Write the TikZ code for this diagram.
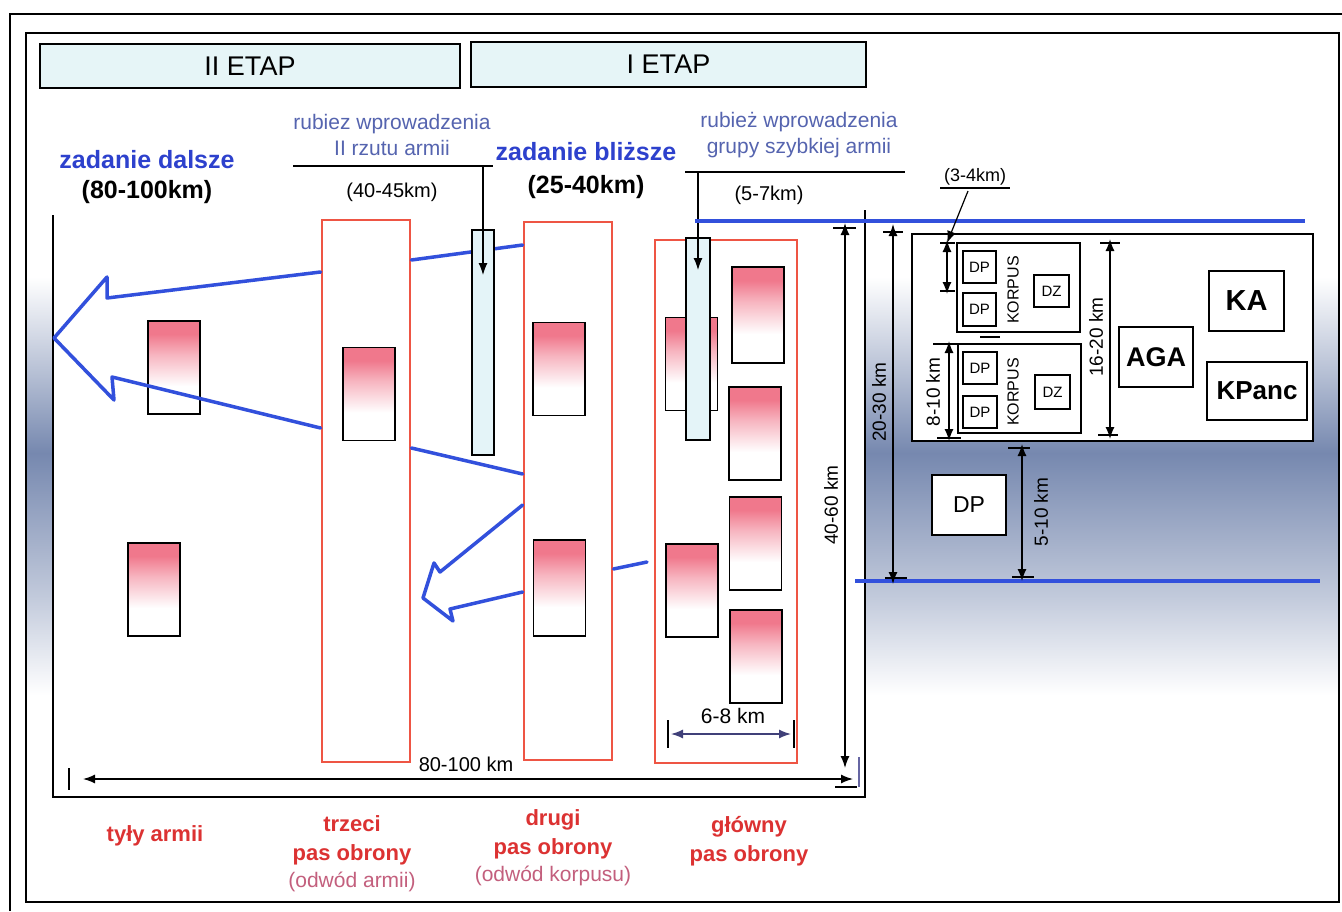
\documentclass[tikz,border=0pt]{standalone}
\usepackage{fontspec}
\setmainfont{Liberation Sans}
\usetikzlibrary{arrows.meta, positioning}
\definecolor{zadblue}{RGB}{45,65,205}
\definecolor{rubgrey}{RGB}{85,100,175}
\definecolor{pasred}{RGB}{238,85,68}
\definecolor{lblred}{RGB}{220,50,50}
\definecolor{odwred}{RGB}{195,95,125}
\definecolor{movblue}{RGB}{50,80,220}
\definecolor{etapfill}{RGB}{230,245,247}
\definecolor{barfill}{RGB}{228,244,248}
\definecolor{unitpink}{RGB}{240,120,140}
\definecolor{bandgrey}{RGB}{118,136,175}
\pgfdeclareverticalshading{unitfade}{100bp}{color(0bp)=(white); color(40bp)=(white); color(57bp)=(unitpink!55); color(68bp)=(unitpink); color(100bp)=(unitpink)}
\pgfdeclareverticalshading{bandfade}{100bp}{color(0bp)=(white); color(30bp)=(white); color(39bp)=(bandgrey!45); color(52bp)=(bandgrey); color(59bp)=(bandgrey!55); color(68bp)=(white); color(100bp)=(white)}
\newcommand{\pxfont}[1]{\fontsize{#1}{#1}\selectfont}

\begin{document}
\begin{tikzpicture}[x=1pt, y=-1pt,
  etap/.style={draw, line width=1.4pt, fill=etapfill, inner sep=0pt, font=\pxfont{27}},
  pas/.style={draw=pasred, line width=2.8pt, inner sep=0pt},
  unit/.style={draw, line width=1.5pt, shading=unitfade, inner sep=0pt, minimum width=52pt, minimum height=93pt},
  bar/.style={draw, line width=1.3pt, fill=barfill, inner sep=0pt},
  blk/.style={draw, line width=1.4pt, fill=white, inner sep=0pt},
  zad/.style={text=zadblue, font=\pxfont{25}\bfseries},
  kmb/.style={font=\pxfont{25}\bfseries},
  rub/.style={text=rubgrey, font=\pxfont{21}, align=center},
  dim/.style={font=\pxfont{20}},
  vdim/.style={font=\pxfont{19}, rotate=90},
  pasl/.style={text=lblred, font=\pxfont{22}\bfseries, align=center},
  odw/.style={text=odwred, font=\pxfont{21}},
  move/.style={draw=movblue, line width=3.5pt, line join=round, line cap=round},
  front/.style={draw=movblue, line width=4pt},
  dimarr/.style={{Latex[length=12pt,width=9pt]}-{Latex[length=12pt,width=9pt]}, line width=1.4pt},
  arr/.style={-{Latex[length=12pt,width=9pt]}, line width=1.2pt},
  tick/.style={line width=1.2pt},
]
\useasboundingbox (0,0) rectangle (1342,911);
\fill[white] (0,0) rectangle (1342,911);
\shade[shading=bandfade] (26,200) rectangle (1339,750);
\fill[white] (53,215) rectangle (865,797);
\draw[line width=1.2pt] (10,911) -- (10,14) -- (1342,14);
\draw[line width=1.4pt] (26,33) rectangle (1339,902);
\draw[line width=1.3pt] (53,215) -- (53,797) -- (865,797) -- (865,210);

\node[etap, minimum width=420pt, minimum height=44pt] (etap2) at (250,66) {II ETAP};
\node[etap, minimum width=395pt, minimum height=45pt] (etap1) at (668.5,64.5) {I ETAP};

\node[zad] (zdal) at (147,160) {zadanie dalsze};
\node[kmb] (zdalkm) at (147,192) {(80-100km)};
\node[zad] (zbl) at (586,152) {zadanie bliższe};
\node[kmb] (zblkm) at (586,187) {(25-40km)};
\node[rub] (rub2) at (392,135) {rubiez wprowadzenia\\[5pt]II rzutu armii};
\node[rub] (rubg) at (799,135) {rubież wprowadzenia\\[5pt]grupy szybkiej armii};
\node[dim] (rub2km) at (392,192) {(40-45km)};
\node[dim] (rubgkm) at (769,195) {(5-7km)};
\node[font=\pxfont{18}] (odst) at (975,177) {(3-4km)};
\coordinate (rub2l) at (293,166);
\coordinate (rub2r) at (493,166);
\coordinate (rubgl) at (685,172);
\coordinate (rubgr) at (905,172);
\coordinate (odstl) at (940,188);
\coordinate (odstr) at (1010,188);
\draw[tick] (rub2l) -- (rub2r);
\draw[tick] (rubgl) -- (rubgr);
\draw[tick] (odstl) -- (odstr);

\node[pas, minimum width=88pt, minimum height=542pt] (trzeci) at (366,491) {};
\node[pas, minimum width=88pt, minimum height=538pt] (drugi) at (568,491) {};
\node[pas, minimum width=142pt, minimum height=523pt] (glowny) at (726,501.5) {};

\node[unit] (u1) at (174,367.5) {};
\node[unit] (u2) at (154,589.5) {};
\node[unit] (u3) at (369,394) {};
\node[unit] (u4) at (559,369) {};
\node[unit, minimum height=96pt] (u5) at (559.5,588) {};
\node[unit] (u6) at (691.5,364) {};
\node[unit, minimum height=96pt] (u7) at (758,315) {};
\node[unit] (u8) at (755,433.5) {};
\node[unit] (u9) at (755.5,543.5) {};
\node[unit] (u10) at (756,656.5) {};
\node[unit] (u11) at (692,590.5) {};

\coordinate (dalA) at (trzeci.west |- 0,272);
\coordinate (dalB) at (trzeci.west |- 0,428);
\draw[move] (dalA) -- (107,298) -- (107,277) -- (54,338) -- (114,400) -- (112,377) -- (dalB);
\coordinate (blA) at (drugi.west |- 0,505);
\coordinate (blB) at (drugi.west |- 0,592);
\draw[move] (blA) -- (440,572) -- (434,563) -- (423,598) -- (453,621) -- (450,609) -- (blB);
\draw[move] (trzeci.east |- 0,260) -- (drugi.west |- 0,245);
\draw[move] (trzeci.east |- 0,448) -- (drugi.west |- 0,474);
\coordinate (glA) at (647,562);
\draw[move] (drugi.east |- 0,569) -- (glA);

\node[bar, minimum width=22pt, minimum height=225pt] (bar2) at (483,342.5) {};
\node[bar, minimum width=24pt, minimum height=202pt] (barg) at (698,339) {};
\draw[arr] (rub2r -| bar2) -- (bar2.north |- 0,275);
\draw[arr] (rubgl -| barg) -- (barg.north |- 0,270);

\coordinate (frontA) at (695,221);
\coordinate (frontB) at (1305,221);
\coordinate (frontC) at (855,581);
\coordinate (frontD) at (1320,581);
\draw[front] (frontA) -- (frontB);
\draw[front] (frontC) -- (frontD);

\node[blk, minimum width=401pt, minimum height=207pt] (armia) at (1112.5,337.5) {};
\node[blk, minimum width=123pt, minimum height=89pt] (korp1) at (1018.5,287.5) {};
\node[blk, minimum width=123pt, minimum height=89pt] (korp2) at (1019.5,388.5) {};
\node[blk, minimum width=33pt, minimum height=32pt, font=\pxfont{15}] (dp1a) at (979.5,267) {DP};
\node[blk, minimum width=33pt, minimum height=33pt, font=\pxfont{15}] (dp1b) at (979.5,309.5) {DP};
\node[blk, minimum width=35pt, minimum height=32pt, font=\pxfont{15}] (dz1) at (1051.5,291) {DZ};
\node[blk, minimum width=34pt, minimum height=32pt, font=\pxfont{15}] (dp2a) at (980,368) {DP};
\node[blk, minimum width=34pt, minimum height=32pt, font=\pxfont{15}] (dp2b) at (980,412) {DP};
\node[blk, minimum width=35pt, minimum height=34pt, font=\pxfont{15}] (dz2) at (1052.5,392) {DZ};
\node[rotate=90, font=\pxfont{16}] (k1lbl) at (1013,290) {KORPUS};
\node[rotate=90, font=\pxfont{16}] (k2lbl) at (1013,392) {KORPUS};
\node[blk, minimum width=74pt, minimum height=60pt, font=\pxfont{27}\bfseries] (aga) at (1156,357) {AGA};
\node[blk, minimum width=75pt, minimum height=60pt, font=\pxfont{29}\bfseries] (ka) at (1246.5,301) {KA};
\node[blk, minimum width=100pt, minimum height=58pt, font=\pxfont{26}\bfseries] (kpanc) at (1257,391) {KPanc};
\node[blk, minimum width=74pt, minimum height=60pt, font=\pxfont{23}] (dp) at (969,505) {DP};

\coordinate (t2030a) at (893,232);
\coordinate (t2030b) at (893,578);
\draw[tick] (883,232) -- (903,232);
\draw[tick] (885,578) -- (907,578);
\draw[dimarr] ([yshift=8pt]t2030a) -- ([yshift=-6pt]t2030b);
\node[vdim] (l2030) at (879,402) {20-30 km};
\coordinate (t1620a) at (1110,243);
\coordinate (t1620b) at (1110,435);
\draw[tick] (1100,243) -- (1120,243);
\draw[tick] (1098,435) -- (1118,435);
\draw[dimarr] ([yshift=4pt]t1620a) -- ([yshift=-4pt]t1620b);
\node[vdim] (l1620) at (1096,337) {16-20 km};
\coordinate (t810a) at (949,344);
\coordinate (t810b) at (949,438);
\draw[tick] (933,344) -- (958,344);
\draw[tick] (937,438) -- (961,438);
\draw[dimarr] ([yshift=3pt]t810a) -- ([yshift=-3pt]t810b);
\node[vdim] (l810) at (933,392) {8-10 km};
\coordinate (tdpa) at (947,243);
\coordinate (tdpb) at (947,291);
\draw[tick] (940,243) -- (955,243);
\draw[tick] (940,291) -- (955,291);
\draw[dimarr] ([yshift=3pt]tdpa) -- ([yshift=-3pt]tdpb);
\draw[tick] (980,337) -- (1000,337);
\coordinate (t510a) at (1022,448);
\coordinate (t510b) at (1022,577);
\draw[tick] (1008,448) -- (1030,448);
\draw[tick] (1012,577) -- (1034,577);
\draw[dimarr] ([yshift=4pt]t510a) -- ([yshift=-4pt]t510b);
\node[vdim] (l510) at (1041,512) {5-10 km};
\draw[arr] (968,191) -- (tdpa);

\coordinate (t4060a) at (845,228);
\coordinate (t4060b) at (845,768);
\draw[tick] (833,228) -- (856,228);
\draw[tick] (835,787) -- (857,787);
\draw[dimarr] ([yshift=5pt]t4060a) -- (t4060b);
\node[vdim] (l4060) at (831,505) {40-60 km};
\coordinate (t80a) at (69,779);
\coordinate (t80b) at (859,779);
\draw[tick] (69,768) -- (69,790);
\draw[tick, draw=blue!40!black!60] (859,757) -- (859,787);
\draw[dimarr] ([xshift=14pt]t80a) -- ([xshift=-6pt]t80b);
\node[dim] (l80) at (466,764) {80-100 km};
\coordinate (t68a) at (668,734);
\coordinate (t68b) at (794,734);
\draw[tick] (668,720) -- (668,748);
\draw[tick] (794,720) -- (794,748);
\draw[dimarr, draw=blue!30!black!75] ([xshift=3pt]t68a) -- ([xshift=-3pt]t68b);
\node[dim, font=\pxfont{21}] (l68) at (733,716) {6-8 km};

\node[pasl] (tyly) at (155,836) {tyły armii};
\node[pasl] (trzecil) at (352,840) {trzeci\\[7pt]pas obrony};
\node[odw, below=0pt of trzecil] (trzecio) {(odwód armii)};
\node[pasl] (drugil) at (553,834) {drugi\\[7pt]pas obrony};
\node[odw, below=0pt of drugil] (drugio) {(odwód korpusu)};
\node[pasl] (glownyl) at (749,841) {główny\\[7pt]pas obrony};
\end{tikzpicture}
\end{document}
